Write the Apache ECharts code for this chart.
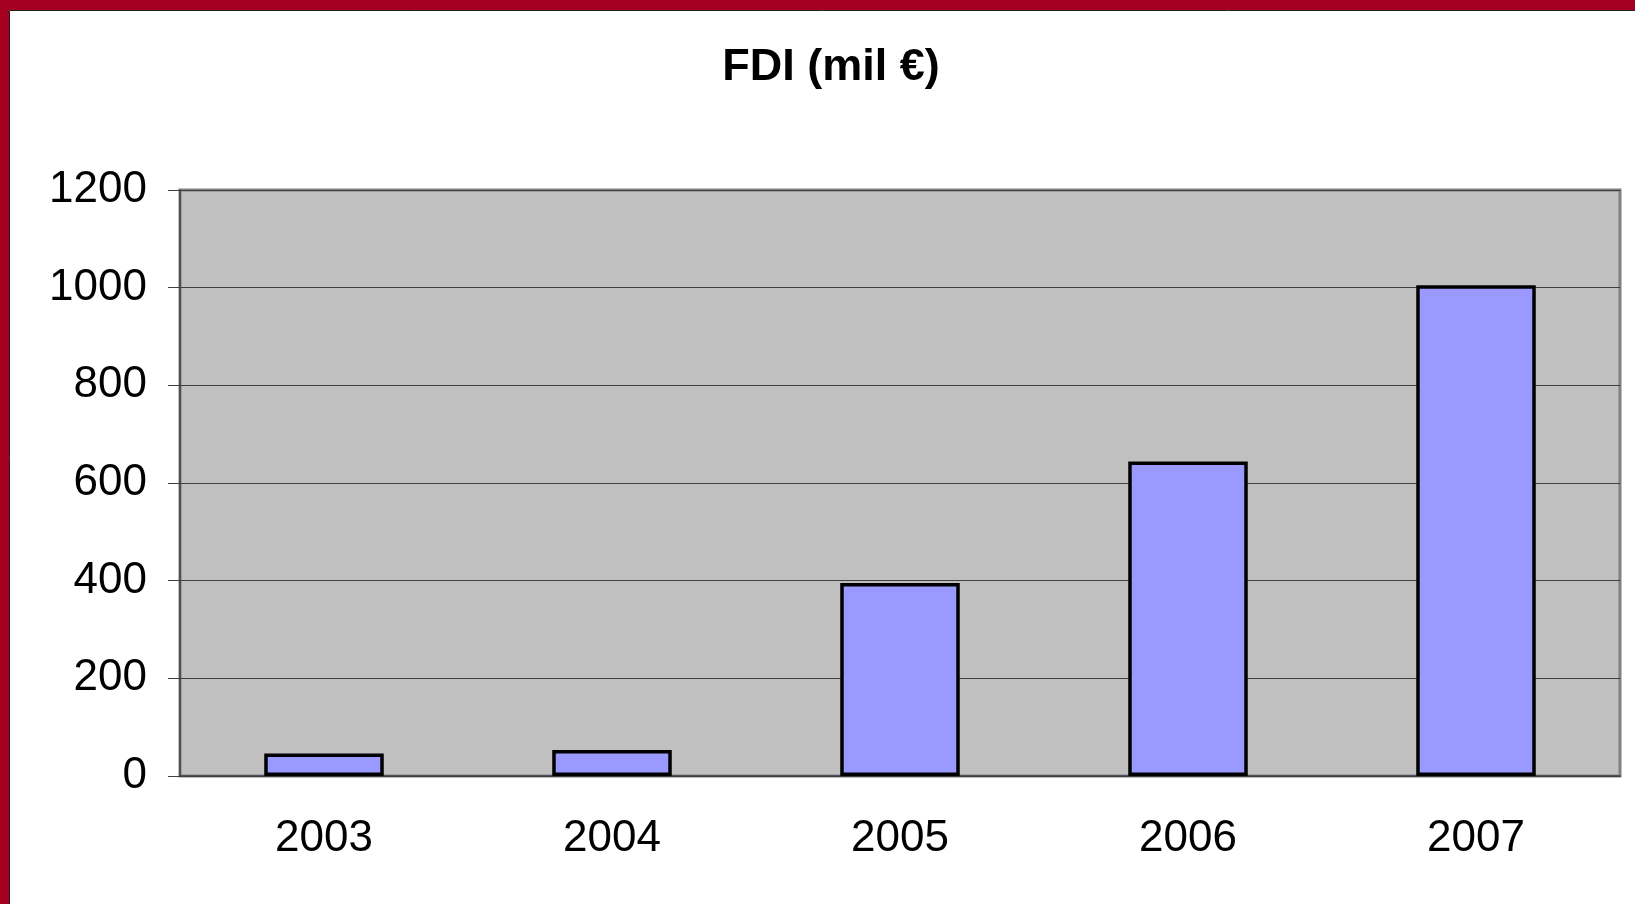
<!DOCTYPE html>
<html>
<head>
<meta charset="utf-8">
<style>
	html, body { margin: 0; padding: 0; background: #fff; }
	#fdi { width: 1635px; height: 904px; }
</style>
<script src="https://cdn.jsdelivr.net/npm/echarts@6/dist/echarts.min.js"></script>
</head>
<body>
<div id="fdi"></div>
<script>
	// FDI by year, mil EUR
	var years = ["2003", "2004", "2005", "2006", "2007"];
	var fdiValues = [46, 53, 395, 644, 1005];
	var yTicks = [0, 200, 400, 600, 800, 1000, 1200];

	var chart = echarts.init(document.getElementById("fdi"));

	var font = "'Liberation Sans', Arial, sans-serif";

	var option = {
		animation: false,
		backgroundColor: "#fff",
		title: {
			text: "FDI (mil €)",
			left: 826,
			top: 40,
			textAlign: "center",
			textStyle: {
				fontFamily: font,
				fontWeight: "bold",
				fontSize: 45,
				color: "#000",
			},
		},
		graphic: [
			// slide frame: red band top and left
			{ type: "rect", shape: { x: 0, y: 0, width: 1635, height: 10 }, style: { fill: "#A50021" } },
			{ type: "rect", shape: { x: 0, y: 0, width: 9, height: 904 }, style: { fill: "#A50021" } },
			{ type: "line", shape: { x1: 9.5, y1: 10.5, x2: 1635, y2: 10.5 }, style: { stroke: "#222", lineWidth: 1 } },
			{ type: "line", shape: { x1: 9.5, y1: 10.5, x2: 9.5, y2: 904 }, style: { stroke: "#222", lineWidth: 1 } },
		],
		grid: {
			left: 180,
			right: 15,
			top: 190,
			bottom: 128,
			show: true,
			backgroundColor: "#C0C0C0",
			borderColor: "#808080",
			borderWidth: 3,
		},
		xAxis: {
			type: "category",
			data: years,
			axisLine: { lineStyle: { color: "#404040", width: 1.5 } },
			axisTick: { length: 12, lineStyle: { color: "#404040" } },
			axisLabel: {
				margin: 41,
				fontFamily: font,
				fontSize: 44,
				color: "#000",
			},
		},
		yAxis: {
			type: "value",
			min: yTicks[0],
			max: yTicks[yTicks.length - 1],
			interval: yTicks[1] - yTicks[0],
			axisLine: { show: true, lineStyle: { color: "#404040", width: 1.5 } },
			axisTick: { show: true, length: 12, lineStyle: { color: "#404040" } },
			splitLine: { lineStyle: { color: "#404040", width: 1 } },
			axisLabel: {
				margin: 33,
				fontFamily: font,
				fontSize: 44,
				color: "#000",
				formatter: function (v) {
					return String(v);
				},
			},
		},
		series: [
			{
				name: "FDI",
				type: "bar",
				data: fdiValues,
				barWidth: "41.5%",
				itemStyle: {
					color: "#9999FF",
					borderColor: "#000",
					borderWidth: 3.5,
				},
			},
		],
	};

	chart.setOption(option);
</script>
</body>
</html>
